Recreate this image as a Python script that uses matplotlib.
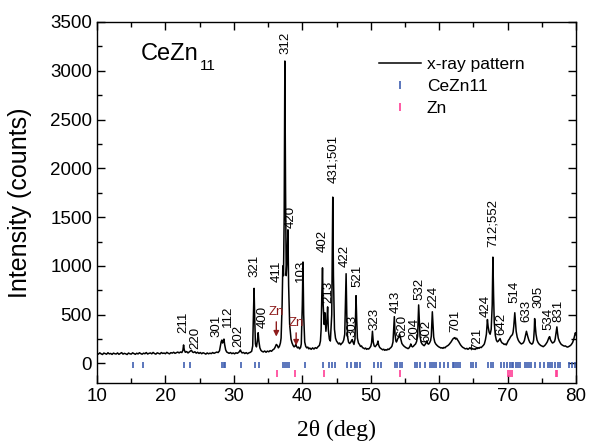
import matplotlib
matplotlib.use("Agg")
import matplotlib.pyplot as plt
from matplotlib.lines import Line2D

plt.rcParams['font.family'] = ['Liberation Sans', 'DejaVu Sans']
plt.rcParams['mathtext.default'] = 'regular'

# ---------------- data ----------------
two_theta = [
    10.0, 10.2, 10.4, 10.6, 10.8, 11.0, 11.2, 11.4, 11.6, 11.8, 12.0, 12.2, 12.4, 12.6, 12.8,
    13.0, 13.2, 13.4, 13.6, 13.8, 14.0, 14.2, 14.4, 14.6, 14.8, 15.0, 15.2, 15.4, 15.6, 15.8,
    16.0, 16.2, 16.4, 16.6, 16.8, 17.0, 17.2, 17.4, 17.6, 17.8, 18.0, 18.2, 18.4, 18.6, 18.8,
    19.0, 19.2, 19.4, 19.6, 19.8, 20.0, 20.2, 20.4, 20.6, 20.8, 21.0, 21.2, 21.4, 21.6, 21.8,
    22.0, 22.2, 22.4, 22.55, 22.65, 22.75, 22.9, 23.1, 23.3, 23.5, 23.65, 23.8, 23.95, 24.1, 24.3,
    24.5, 24.7, 24.9, 25.1, 25.3, 25.5, 25.7, 25.9, 26.1, 26.3, 26.5, 26.7, 26.9, 27.1, 27.3,
    27.5, 27.7, 27.9, 28.05, 28.15, 28.25, 28.35, 28.45, 28.55, 28.65, 28.8, 28.95, 29.1, 29.3, 29.5,
    29.7, 29.9, 30.1, 30.3, 30.5, 30.7, 30.85, 30.95, 31.05, 31.2, 31.4, 31.6, 31.8, 32.0, 32.2,
    32.4, 32.6, 32.75, 32.85, 32.95, 33.05, 33.15, 33.3, 33.45, 33.55, 33.65, 33.8, 33.95, 34.1, 34.3,
    34.5, 34.7, 34.9, 35.1, 35.3, 35.5, 35.7, 35.9, 36.05, 36.2, 36.35, 36.5, 36.65, 36.8, 36.9,
    37.05, 37.15, 37.25, 37.35, 37.45, 37.55, 37.65, 37.8, 37.9, 38.0, 38.15, 38.35, 38.5, 38.65, 38.8,
    38.95, 39.05, 39.15, 39.3, 39.45, 39.6, 39.75, 39.85, 40.0, 40.1, 40.2, 40.35, 40.5, 40.65, 40.8,
    40.95, 41.1, 41.3, 41.5, 41.7, 41.9, 42.1, 42.3, 42.5, 42.65, 42.75, 42.85, 42.95, 43.05, 43.2,
    43.3, 43.45, 43.6, 43.7, 43.8, 43.95, 44.1, 44.3, 44.45, 44.55, 44.7, 44.85, 45.0, 45.15, 45.3,
    45.45, 45.6, 45.75, 45.9, 46.05, 46.2, 46.3, 46.4, 46.5, 46.6, 46.75, 46.9, 47.05, 47.2, 47.3,
    47.4, 47.55, 47.7, 47.85, 47.95, 48.05, 48.2, 48.35, 48.5, 48.65, 48.8, 48.95, 49.1, 49.25, 49.4,
    49.55, 49.7, 49.85, 50.0, 50.12, 50.25, 50.37, 50.5, 50.65, 50.8, 50.95, 51.05, 51.15, 51.3, 51.45,
    51.6, 51.75, 51.9, 52.05, 52.2, 52.35, 52.5, 52.65, 52.8, 52.95, 53.1, 53.25, 53.35, 53.45, 53.55,
    53.65, 53.75, 53.85, 53.95, 54.1, 54.2, 54.3, 54.4, 54.55, 54.7, 54.85, 55.0, 55.15, 55.3, 55.45,
    55.6, 55.75, 55.85, 55.95, 56.1, 56.25, 56.4, 56.55, 56.7, 56.85, 57.0, 57.1, 57.2, 57.35, 57.5,
    57.65, 57.8, 57.95, 58.1, 58.2, 58.3, 58.45, 58.6, 58.75, 58.85, 59.0, 59.1, 59.2, 59.35, 59.5,
    59.65, 59.8, 59.95, 60.1, 60.25, 60.4, 60.55, 60.7, 60.85, 61.0, 61.15, 61.3, 61.45, 61.6, 61.75,
    61.9, 62.05, 62.2, 62.3, 62.4, 62.55, 62.7, 62.85, 63.0, 63.15, 63.3, 63.45, 63.6, 63.75, 63.9,
    64.05, 64.2, 64.35, 64.5, 64.65, 64.8, 64.95, 65.1, 65.25, 65.4, 65.55, 65.7, 65.85, 66.0, 66.15,
    66.3, 66.45, 66.6, 66.75, 66.9, 67.05, 67.15, 67.3, 67.45, 67.6, 67.75, 67.85, 67.95, 68.05, 68.2,
    68.35, 68.5, 68.65, 68.8, 68.9, 69.05, 69.2, 69.35, 69.5, 69.65, 69.8, 69.95, 70.1, 70.25, 70.4,
    70.55, 70.7, 70.8, 70.9, 71.0, 71.05, 71.15, 71.25, 71.4, 71.55, 71.7, 71.85, 72.0, 72.15, 72.3,
    72.45, 72.6, 72.75, 72.85, 72.95, 73.1, 73.25, 73.4, 73.55, 73.7, 73.8, 73.9, 73.95, 74.05, 74.15,
    74.3, 74.45, 74.6, 74.75, 74.9, 75.05, 75.2, 75.35, 75.5, 75.65, 75.8, 75.95, 76.05, 76.15, 76.25,
    76.4, 76.55, 76.7, 76.85, 76.95, 77.05, 77.15, 77.2, 77.3, 77.4, 77.55, 77.7, 77.85, 78.0, 78.15,
    78.3, 78.45, 78.6, 78.75, 78.9, 79.05, 79.2, 79.35, 79.5, 79.65, 79.8, 79.9, 80.0,
]
counts = [
    104, 96, 109, 99, 92, 107, 101, 95, 110, 98, 103, 93, 106, 100, 97,
    108, 94, 102, 111, 96, 104, 99, 92, 107, 100, 96, 109, 102, 94, 105,
    98, 110, 101, 95, 106, 100, 112, 97, 104, 108, 99, 113, 102, 96, 109,
    104, 98, 112, 103, 107, 100, 114, 105, 99, 111, 106, 115, 104, 110, 117,
    108, 118, 112, 135, 190, 140, 115, 122, 108, 120, 128, 135, 118, 112, 120,
    106, 115, 103, 112, 100, 110, 104, 96, 108, 99, 106, 101, 112, 104, 110,
    117, 112, 130, 190, 225, 240, 210, 225, 250, 195, 140, 118, 112, 104, 112,
    101, 108, 99, 110, 104, 114, 125, 138, 122, 108, 113, 102, 111, 100, 109,
    114, 125, 180, 500, 770, 450, 200, 170, 240, 315, 230, 160, 135, 125, 118,
    128, 115, 127, 120, 132, 125, 140, 150, 170, 195, 185, 160, 175, 210, 260,
    600, 1000, 900, 1500, 3100, 1800, 900, 1100, 1370, 800, 400, 250, 210, 185, 170,
    180, 195, 175, 160, 168, 150, 165, 200, 600, 1040, 500, 220, 175, 160, 168,
    150, 158, 145, 160, 148, 162, 155, 172, 185, 230, 350, 700, 980, 600, 400,
    520, 330, 450, 580, 350, 250, 230, 500, 1705, 900, 350, 260, 230, 215, 200,
    210, 192, 205, 215, 240, 300, 600, 920, 500, 280, 220, 205, 215, 235, 245,
    220, 195, 250, 695, 450, 260, 210, 195, 175, 180, 162, 158, 150, 158, 145,
    152, 148, 160, 175, 210, 330, 220, 180, 172, 185, 200, 230, 190, 165, 155,
    148, 140, 146, 135, 142, 137, 148, 143, 155, 163, 178, 220, 360, 480, 300,
    240, 220, 235, 255, 270, 300, 275, 245, 205, 190, 178, 170, 162, 158, 152,
    160, 178, 200, 180, 170, 178, 190, 200, 225, 280, 600, 440, 280, 220, 200,
    190, 182, 195, 215, 232, 205, 198, 212, 235, 280, 530, 400, 270, 220, 200,
    188, 178, 170, 165, 158, 162, 155, 165, 160, 172, 178, 185, 195, 208, 222,
    240, 255, 262, 265, 250, 258, 240, 225, 205, 188, 175, 165, 160, 152, 150,
    155, 145, 152, 162, 150, 155, 146, 150, 144, 155, 152, 160, 158, 167, 163,
    175, 185, 200, 240, 300, 450, 380, 320, 300, 350, 600, 1090, 700, 420, 290,
    240, 222, 230, 245, 255, 225, 210, 205, 195, 200, 190, 212, 235, 250, 270,
    285, 295, 320, 380, 480, 520, 420, 330, 270, 240, 222, 210, 200, 205, 212,
    235, 280, 330, 300, 275, 240, 215, 205, 198, 210, 240, 350, 460, 380, 300,
    240, 215, 200, 190, 182, 178, 172, 180, 190, 205, 222, 250, 268, 275, 245,
    225, 210, 215, 225, 250, 300, 350, 375, 310, 260, 230, 210, 195, 188, 182,
    178, 180, 172, 168, 172, 178, 185, 198, 215, 245, 290, 315, 295,
]

cezn11_positions = [
    15.3, 16.7, 22.7, 23.6, 28.3, 28.5, 28.7, 31.1, 33.1, 33.7, 37.2, 37.5, 37.7, 38.0,
    40.4, 43.0, 43.9, 44.4, 44.8, 46.5, 47.1, 47.7, 48.0, 48.4, 50.5, 51.0, 51.5,
    53.5, 53.9, 54.3, 54.5, 56.4, 56.7, 57.2, 57.9, 58.6, 58.9, 59.3, 59.6, 60.1, 60.7,
    61.3, 62.0, 62.2, 62.5, 62.7, 63.0, 64.6, 65.0, 65.4, 67.2, 67.5, 67.9, 69.1, 69.5,
    69.9, 70.3, 70.6, 70.8, 71.2, 71.5, 71.8, 72.5, 72.8, 73.1, 73.4, 74.0, 74.7, 75.3,
    75.9, 76.2, 76.5, 76.9, 77.3, 77.7, 78.9, 79.4, 79.9,
]
zn_positions = [36.3, 39.0, 43.2, 54.3, 70.05, 70.35, 70.65, 77.0, 77.25]

hkl_labels = ['211', '220', '301', '112', '202', '321', '400', '411', '312', '420',
              '103', '402', '213', '431;501', '422', '303', '521', '323', '413', '620',
              '204', '532', '602', '224', '701', '721', '424', '712;552', '642', '514',
              '633', '305', '534', '831']
hkl_x = [22.57, 24.3, 27.5, 29.15, 30.6, 32.95, 34.26, 36.3, 37.47, 38.35,
         39.8, 43.0, 43.75, 44.5, 46.25, 47.27, 48.0, 50.48, 53.7, 54.6,
         56.3, 57.05, 58.1, 59.1, 62.3, 65.5, 66.85, 67.87, 69.04, 70.94,
         72.7, 74.45, 75.9, 77.4]
hkl_y = [316, 153, 275, 378, 173, 888, 367, 837, 3173, 1388,
         837, 1143, 622, 1847, 990, 275, 786, 347, 520, 275,
         245, 653, 224, 571, 327, 143, 480, 1194, 296, 622,
         429, 571, 347, 429]

zn_arrow_x = [36.2, 39.1]
zn_arrow_tip = [276, 184]
zn_text_y = [531, 418]

# ---------------- figure ----------------
fig = plt.figure(figsize=(5.89, 4.44), dpi=100)
ax = fig.add_axes([0.1647, 0.1374, 0.8133, 0.8131])

ax.plot(two_theta, counts, color='black', lw=1.1, label='x-ray pattern')
blue = '#3f5fb0'
pink = '#ff3d95'
ax.vlines(cezn11_positions, -50, 18, color=blue, lw=1.2)
ax.vlines(zn_positions, -135, -62, color=pink, lw=1.2)

for lab, x, y in zip(hkl_labels, hkl_x, hkl_y):
    ax.text(x, y, lab, rotation=90, ha='center', va='bottom', fontsize=9.5)

dark_red = '#8e1c1c'
for x, tip, ty in zip(zn_arrow_x, zn_arrow_tip, zn_text_y):
    ax.annotate('Zn', xy=(x, tip), xytext=(x, ty), ha='center', va='center',
                color=dark_red, fontsize=9.5,
                arrowprops=dict(arrowstyle='-|>', color=dark_red, lw=1.0,
                                mutation_scale=8, shrinkA=1, shrinkB=0))

ax.text(0.092, 0.895, 'CeZn', transform=ax.transAxes, fontsize=17,
        ha='left', va='baseline')
ax.text(0.214, 0.868, '11', transform=ax.transAxes, fontsize=11,
        ha='left', va='baseline')

handles = [Line2D([], [], color='black', lw=1.1),
           Line2D([], [], color=blue, marker='|', ls='none', markersize=6, mew=1.2),
           Line2D([], [], color=pink, marker='|', ls='none', markersize=6, mew=1.2)]
ax.legend(handles, ['x-ray pattern', 'CeZn11', 'Zn'], loc='upper left',
          bbox_to_anchor=(0.589, 0.903), frameon=False, fontsize=12.5,
          handlelength=2.4, handletextpad=0.35, labelspacing=0.38,
          borderpad=0, borderaxespad=0)

ax.set_xlim(10, 80)
ax.set_ylim(-200, 3500)
ax.set_xticks(range(10, 81, 10))
ax.set_xticks(range(15, 80, 10), minor=True)
ax.set_yticks(range(0, 3501, 500))
ax.set_yticks(range(250, 3500, 500), minor=True)
ax.tick_params(which='both', direction='in', top=True, right=True, labelsize=13.5)
ax.tick_params(which='major', length=6, width=1)
ax.tick_params(which='minor', length=3.5, width=1)
for s in ax.spines.values():
    s.set_linewidth(1)

ax.set_xlabel('2θ (deg)', family=['Liberation Serif', 'DejaVu Serif'], fontsize=17, labelpad=11)
ax.set_ylabel('Intensity (counts)', fontsize=18, labelpad=13)

fig.savefig('out.png', dpi=100)
